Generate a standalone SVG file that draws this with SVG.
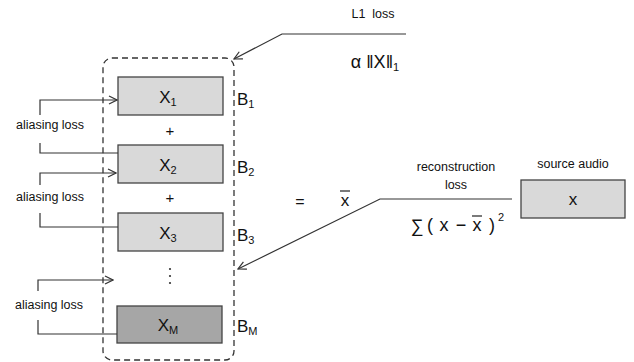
<svg xmlns="http://www.w3.org/2000/svg" width="634" height="362" viewBox="0 0 634 362">
<defs>
<marker id="open" markerWidth="10" markerHeight="10" refX="9" refY="5" orient="auto" markerUnits="userSpaceOnUse">
<path d="M1,1 L9,5 L1,9" fill="none" stroke="#333" stroke-width="1.2"/>
</marker>
<style>
text{font-family:"Liberation Sans",Arial,sans-serif;fill:#111}
.box{stroke:#444;stroke-width:1.3}
.light{fill:#d9d9d9}
.dark{fill:#a6a6a6}
.lbl{font-size:17px;text-anchor:middle}
.sm{font-size:12.5px;text-anchor:middle}
.ln{fill:none;stroke:#333;stroke-width:1.2}
.eq{font-size:18px;text-anchor:middle}
</style>
</defs>
<rect x="103" y="58" width="131" height="302" rx="9" fill="none" stroke="#333" stroke-width="1.3" stroke-dasharray="6,4"/>
<g id="n1"><rect class="box light" x="118" y="77" width="105" height="38"/><text class="lbl" x="168" y="103">X<tspan font-size="11" dy="3">1</tspan></text></g>
<g id="n2"><rect class="box light" x="118" y="145" width="105" height="38"/><text class="lbl" x="168" y="171">X<tspan font-size="11" dy="3">2</tspan></text></g>
<g id="n3"><rect class="box light" x="118" y="213" width="105" height="38"/><text class="lbl" x="168" y="239">X<tspan font-size="11" dy="3">3</tspan></text></g>
<g id="nM"><rect class="box dark" x="117" y="306" width="105" height="37"/><text class="lbl" x="168" y="331">X<tspan font-size="11" dy="3">M</tspan></text></g>
<g id="bl">
<text x="237" y="105" font-size="17">B<tspan font-size="11" dy="3">1</tspan></text>
<text x="237" y="173" font-size="17">B<tspan font-size="11" dy="3">2</tspan></text>
<text x="237" y="241" font-size="17">B<tspan font-size="11" dy="3">3</tspan></text>
<text x="237" y="332" font-size="17">B<tspan font-size="11" dy="3">M</tspan></text>
</g>
<g id="ops">
<text x="170" y="136" font-size="15" text-anchor="middle">+</text>
<text x="170" y="203" font-size="15" text-anchor="middle">+</text>
<circle cx="170" cy="269" r="1.1" fill="#333"/><circle cx="170" cy="276" r="1.1" fill="#333"/><circle cx="170" cy="283" r="1.1" fill="#333"/>
<text x="300" y="207" font-size="16" text-anchor="middle">=</text>
<text x="345" y="206" font-size="17" text-anchor="middle">x</text>
<line x1="340" y1="191" x2="350" y2="191" stroke="#222" stroke-width="1.2"/>
</g>
<g id="src">
<text class="sm" x="573" y="168">source audio</text>
<rect class="box light" x="521" y="180" width="104" height="38"/>
<text class="lbl" x="573" y="205">x</text>
</g>
<g id="connectors">
<path class="ln" d="M118,153 H40 V143"/>
<path class="ln" d="M40,115 V100 H117" marker-end="url(#open)"/>
<path class="ln" d="M118,227 H40 V213"/>
<path class="ln" d="M40,185 V173 H116" marker-end="url(#open)"/>
<path class="ln" d="M117,334 H38 V320"/>
<path class="ln" d="M38,291 V280 H113" marker-end="url(#open)"/>
<path class="ln" d="M406,34 H282 L234,59" marker-end="url(#open)"/>
<path class="ln" d="M512,199 H380 L238,269" marker-end="url(#open)"/>
</g>
<g id="labels">
<text class="sm" x="50" y="129">aliasing loss</text>
<text class="sm" x="50" y="201">aliasing loss</text>
<text class="sm" x="49" y="309">aliasing loss</text>
<text class="sm" x="373" y="18" xml:space="preserve">L1  loss</text>
<text x="375" y="68" font-size="18" text-anchor="middle">α ‖X‖<tspan font-size="11" dy="3">1</tspan></text>
<text class="sm" x="456" y="171">reconstruction</text>
<text class="sm" x="456" y="189">loss</text>
<text class="eq" x="417" y="232">∑</text>
<text class="eq" x="430" y="231">(</text>
<text class="eq" x="444" y="231">x</text>
<text class="eq" x="461" y="231">−</text>
<text class="eq" x="477" y="231">x</text>
<line x1="472" y1="216" x2="482" y2="216" stroke="#222" stroke-width="1.2"/>
<text class="eq" x="492" y="231">)</text>
<text x="498" y="221" font-size="11">2</text>
</g>
</svg>
